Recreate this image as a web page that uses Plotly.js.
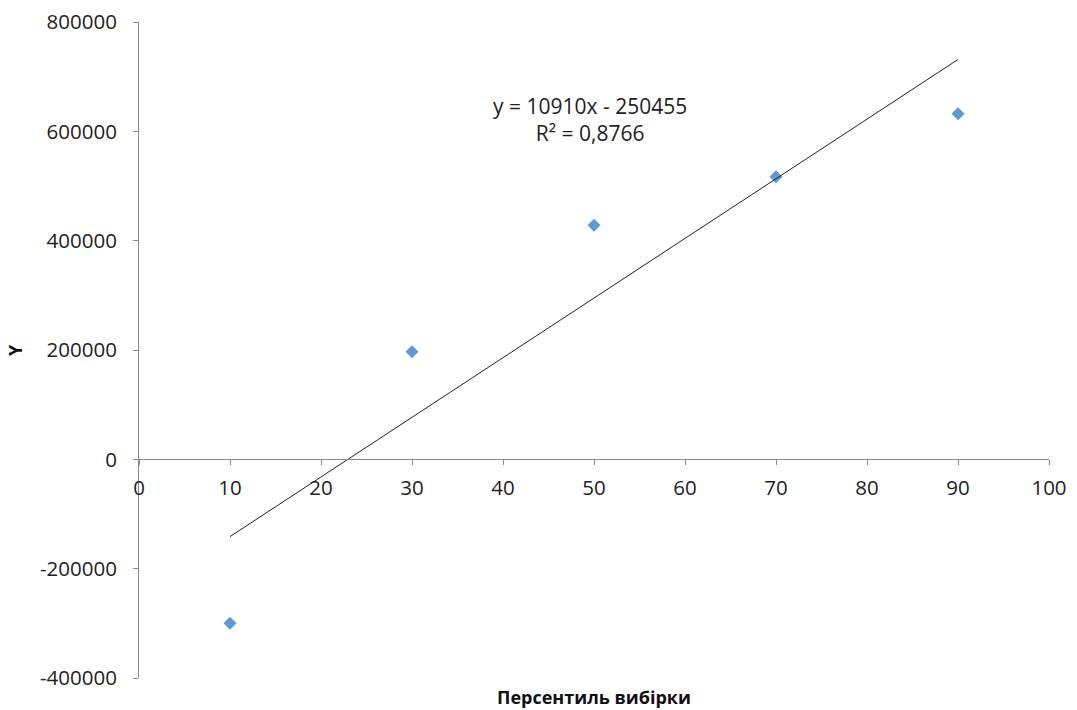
<!DOCTYPE html>
<html>
<head>
<meta charset="utf-8">
<script src="https://cdn.plot.ly/plotly-3.0.1.min.js"></script>
<style>html,body{margin:0;padding:0;background:#fff;}#chart{width:1077px;height:710px;}</style>
</head>
<body>
<div id="chart"></div>
<script>
// Data
const percentiles = [10, 30, 50, 70, 90];
const yValues = [-300000, 197000, 428000, 517000, 632000];
// Trendline coefficients as shown on the chart
const trendSlope = 10910;
const trendIntercept = -250455;
const trendLabel = "y = 10910x - 250455<br>R² = 0,8766";
const xTickVals = [0, 10, 20, 30, 40, 50, 60, 70, 80, 90, 100];
const yTickVals = [-400000, -200000, 0, 200000, 400000, 600000, 800000];
const yTickText = ["-400000", "-200000", "0", "200000", "400000", "600000", "800000"];
const xTitle = "Персентиль вибірки";
const yTitle = "Y";

const xMin = Math.min(...percentiles), xMax = Math.max(...percentiles);
const trendX = [xMin, xMax];
const trendY = trendX.map(x => trendSlope * x + trendIntercept);

const font = "'Open Sans', 'Liberation Sans', sans-serif";

const data = [
  {x: percentiles, y: yValues, type: 'scatter', mode: 'markers',
   marker: {symbol: 'diamond', size: 10, color: '#5B9BD5'}, showlegend: false, hoverinfo: 'x+y'},
  {x: trendX, y: trendY, type: 'scatter', mode: 'lines',
   line: {color: '#222', width: 1}, showlegend: false, hoverinfo: 'skip'}
];

const layout = {
  width: 1077, height: 710,
  margin: {l: 139, r: 28, t: 22, b: 32},
  paper_bgcolor: '#fff', plot_bgcolor: '#fff',
  font: {family: font, size: 20, color: '#222'},
  xaxis: {range: [0, 100], tickvals: xTickVals, showgrid: false, zeroline: false,
          showline: true, linecolor: '#888', linewidth: 1,
          ticks: 'outside', ticklen: 5, tickcolor: '#888',
          anchor: 'free', position: 1/3, ticklabelstandoff: 5,
          tickfont: {family: font, size: 20.5, color: '#222'}},
  yaxis: {range: [-400000, 800000], tickvals: yTickVals, ticktext: yTickText,
          showgrid: false, zeroline: false,
          showline: true, linecolor: '#888', linewidth: 1,
          ticks: 'outside', ticklen: 5, tickcolor: '#888', ticklabelstandoff: 12,
          tickfont: {family: font, size: 20.5, color: '#222'}},
  annotations: [
    {x: 49.6, y: 621000, xref: 'x', yref: 'y', text: trendLabel, showarrow: false,
     align: 'center', font: {family: font, size: 21, color: '#222'}},
    {x: 0.5, y: 0, xref: 'paper', yref: 'paper', yshift: -19, yanchor: 'middle', xanchor: 'center',
     text: '<b>' + xTitle + '</b>',
     showarrow: false, font: {family: font, size: 18, color: '#111'}},
    {x: 0, y: 0.5, xref: 'paper', yref: 'paper', xshift: -124, xanchor: 'center', yanchor: 'middle',
     textangle: -90, text: '<b>' + yTitle + '</b>',
     showarrow: false, font: {family: font, size: 18, color: '#111'}}
  ]
};

Plotly.newPlot('chart', data, layout, {displayModeBar: false, staticPlot: true});
</script>
</body>
</html>
